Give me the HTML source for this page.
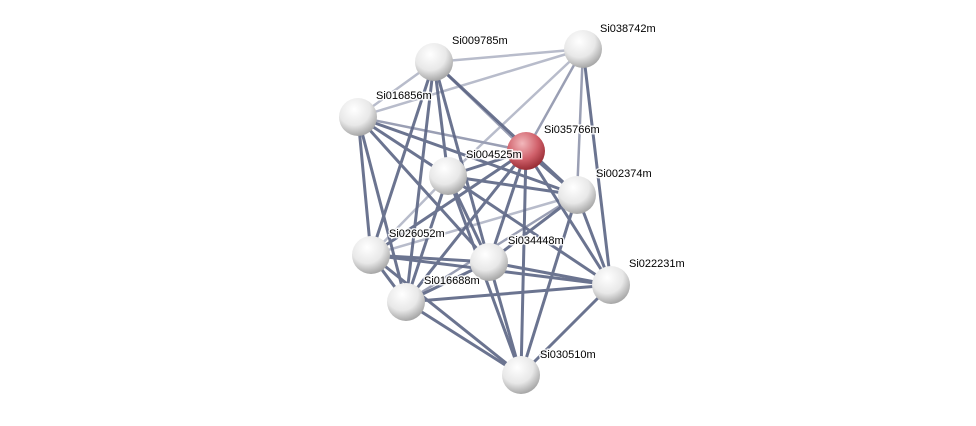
<!DOCTYPE html>
<html><head><meta charset="utf-8"><style>
html,body{margin:0;padding:0;background:#fff;}
svg text{font-family:"Liberation Sans",sans-serif;font-size:11px;fill:#000;stroke:#fff;stroke-width:3px;paint-order:stroke;stroke-opacity:0.85;}
</style></head><body>
<svg width="976" height="421" viewBox="0 0 976 421" xmlns="http://www.w3.org/2000/svg">
<defs>
<radialGradient id="w" cx="40%" cy="30%" r="70%">
<stop offset="0" stop-color="#ffffff"/><stop offset="0.6" stop-color="#e8e8e8"/><stop offset="1" stop-color="#a8a8a8"/>
</radialGradient>
<radialGradient id="r" cx="40%" cy="30%" r="70%">
<stop offset="0" stop-color="#f2b8bc"/><stop offset="0.6" stop-color="#d0606a"/><stop offset="1" stop-color="#9a2e36"/>
</radialGradient>
</defs>
<g stroke-linecap="round">
<g stroke="#b8bccb" stroke-width="2.5">
<line x1="434" y1="62" x2="583" y2="49"/>
<line x1="358" y1="117" x2="583" y2="49"/>
<line x1="448" y1="176" x2="583" y2="49"/>
<line x1="434" y1="62" x2="358" y2="117"/>
<line x1="371" y1="255" x2="577" y2="195"/>
<line x1="371" y1="255" x2="448" y2="176"/>
</g>
<g stroke="#9a9fb4" stroke-width="2.5">
<line x1="526" y1="151" x2="583" y2="49"/>
<line x1="577" y1="195" x2="583" y2="49"/>
<line x1="434" y1="62" x2="526" y2="151"/>
<line x1="358" y1="117" x2="526" y2="151"/>
<line x1="406" y1="302" x2="577" y2="195"/>
</g>
<g stroke="#5c6584" stroke-width="3" opacity="0.9">
<line x1="611" y1="285" x2="583" y2="49"/>
<line x1="358" y1="117" x2="577" y2="195"/>
<line x1="358" y1="117" x2="448" y2="176"/>
<line x1="358" y1="117" x2="371" y2="255"/>
<line x1="358" y1="117" x2="406" y2="302"/>
<line x1="358" y1="117" x2="489" y2="262"/>
<line x1="434" y1="62" x2="448" y2="176"/>
<line x1="434" y1="62" x2="371" y2="255"/>
<line x1="434" y1="62" x2="406" y2="302"/>
<line x1="434" y1="62" x2="489" y2="262"/>
<line x1="434" y1="62" x2="577" y2="195"/>
<line x1="526" y1="151" x2="448" y2="176"/>
<line x1="526" y1="151" x2="577" y2="195"/>
<line x1="526" y1="151" x2="371" y2="255"/>
<line x1="526" y1="151" x2="406" y2="302"/>
<line x1="526" y1="151" x2="489" y2="262"/>
<line x1="526" y1="151" x2="611" y2="285"/>
<line x1="526" y1="151" x2="521" y2="375"/>
<line x1="448" y1="176" x2="577" y2="195"/>
<line x1="448" y1="176" x2="489" y2="262"/>
<line x1="448" y1="176" x2="406" y2="302"/>
<line x1="448" y1="176" x2="611" y2="285"/>
<line x1="448" y1="176" x2="521" y2="375"/>
<line x1="577" y1="195" x2="489" y2="262"/>
<line x1="577" y1="195" x2="611" y2="285"/>
<line x1="577" y1="195" x2="521" y2="375"/>
<line x1="371" y1="255" x2="489" y2="262"/>
<line x1="371" y1="255" x2="406" y2="302"/>
<line x1="371" y1="255" x2="611" y2="285"/>
<line x1="371" y1="255" x2="521" y2="375"/>
<line x1="489" y1="262" x2="406" y2="302"/>
<line x1="489" y1="262" x2="611" y2="285"/>
<line x1="489" y1="262" x2="521" y2="375"/>
<line x1="406" y1="302" x2="611" y2="285"/>
<line x1="406" y1="302" x2="521" y2="375"/>
<line x1="611" y1="285" x2="521" y2="375"/>
</g>
</g>
<g>
<circle cx="434" cy="62" r="19" fill="url(#w)"/>
<circle cx="583" cy="49" r="19" fill="url(#w)"/>
<circle cx="358" cy="117" r="19" fill="url(#w)"/>
<circle cx="526" cy="151" r="19" fill="url(#r)"/>
<circle cx="448" cy="176" r="19" fill="url(#w)"/>
<circle cx="577" cy="195" r="19" fill="url(#w)"/>
<circle cx="371" cy="255" r="19" fill="url(#w)"/>
<circle cx="489" cy="262" r="19" fill="url(#w)"/>
<circle cx="611" cy="285" r="19" fill="url(#w)"/>
<circle cx="406" cy="302" r="19" fill="url(#w)"/>
<circle cx="521" cy="375" r="19" fill="url(#w)"/>
</g>
<g>
<text x="452" y="44">Si009785m</text>
<text x="600" y="32">Si038742m</text>
<text x="376" y="99">Si016856m</text>
<text x="544" y="133">Si035766m</text>
<text x="466" y="158">Si004525m</text>
<text x="596" y="177">Si002374m</text>
<text x="389" y="237">Si026052m</text>
<text x="508" y="244">Si034448m</text>
<text x="629" y="267">Si022231m</text>
<text x="424" y="284">Si016688m</text>
<text x="540" y="358">Si030510m</text>
</g>
</svg>
</body></html>
